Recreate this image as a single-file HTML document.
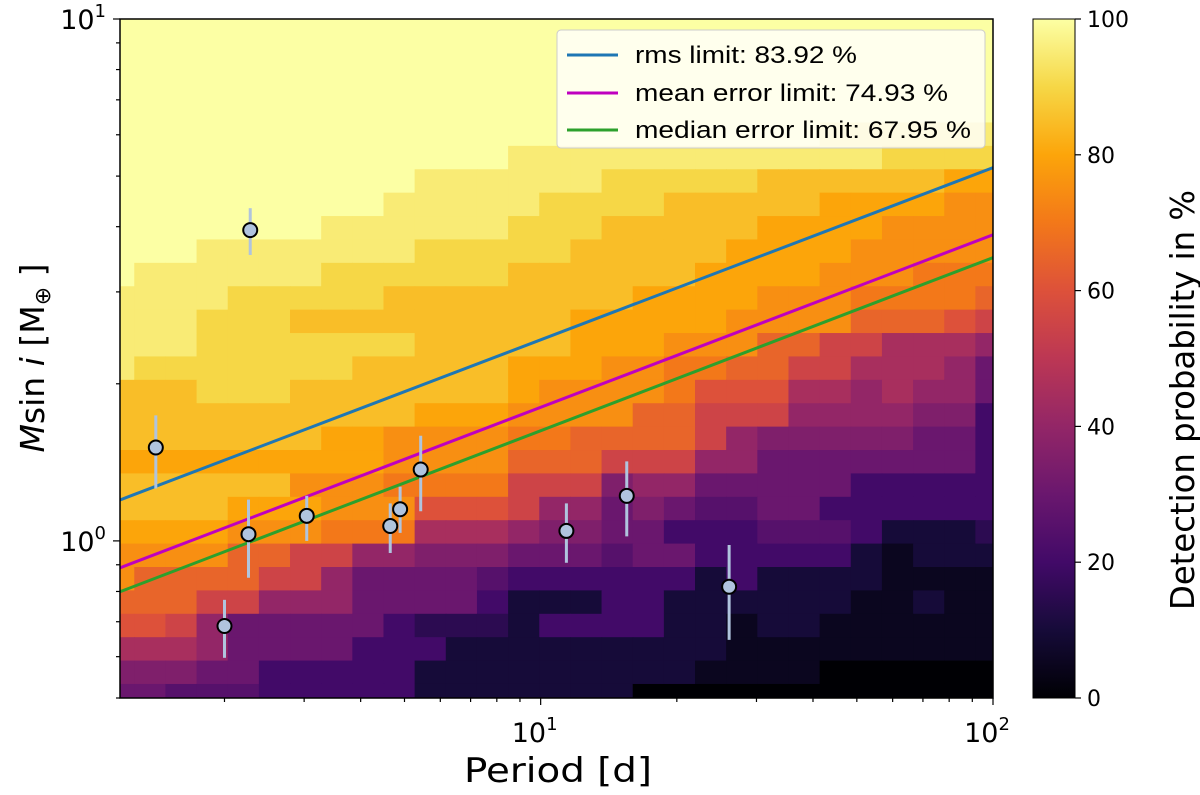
<!DOCTYPE html>
<html><head><meta charset="utf-8"><style>
html,body{margin:0;padding:0;background:#fff;}
svg{display:block;font-family:"DejaVu Sans","Liberation Sans",sans-serif;}
</style></head>
<body>
<svg id="chart" xmlns="http://www.w3.org/2000/svg" width="1200" height="795" viewBox="0 0 1200 795">
<defs><clipPath id="plotclip"><rect x="120" y="19" width="873" height="679"/></clipPath>
<linearGradient id="cbgrad" x1="0" y1="1" x2="0" y2="0">
<stop offset="0" stop-color="#000004"/><stop offset="0.1" stop-color="#160b39"/><stop offset="0.2" stop-color="#420a68"/><stop offset="0.3" stop-color="#6a176e"/><stop offset="0.4" stop-color="#932667"/><stop offset="0.5" stop-color="#bc3754"/><stop offset="0.6" stop-color="#dd513a"/><stop offset="0.7" stop-color="#f37819"/><stop offset="0.8" stop-color="#fca50a"/><stop offset="0.9" stop-color="#f6d746"/><stop offset="1" stop-color="#fcffa4"/>
</linearGradient></defs>
<g id="heat" clip-path="url(#plotclip)"></g>
<g id="lines" clip-path="url(#plotclip)"></g>
<g id="points"></g>
<rect x="120" y="19" width="873" height="679" fill="none" stroke="#000" stroke-width="1.5"/>
<g id="axes"></g>
<g font-family="'Liberation Sans Narrow','Liberation Sans',sans-serif">
<rect x="557" y="30" width="428" height="118" rx="4" fill="#fff" fill-opacity="0.8" stroke="#ccc"/>
<line x1="567" y1="55" x2="618" y2="55" stroke="#1f77b4" stroke-width="3"/>
<text x="635" y="63" font-size="24" textLength="222" lengthAdjust="spacingAndGlyphs">rms limit: 83.92 %</text>
<line x1="567" y1="93" x2="618" y2="93" stroke="#bf00bf" stroke-width="3"/>
<text x="635" y="101" font-size="24" textLength="313" lengthAdjust="spacingAndGlyphs">mean error limit: 74.93 %</text>
<line x1="567" y1="130" x2="618" y2="130" stroke="#2ca02c" stroke-width="3"/>
<text x="635" y="138" font-size="24" textLength="336" lengthAdjust="spacingAndGlyphs">median error limit: 67.95 %</text>
</g>
<rect x="1033" y="19" width="42" height="679" fill="url(#cbgrad)" stroke="#000" stroke-width="1"/>
<g id="cbticks"></g>
<text transform="translate(1194,400) rotate(-90)" text-anchor="middle" font-size="33" textLength="420" lengthAdjust="spacingAndGlyphs">Detection probability in %</text>
<text x="558" y="782" text-anchor="middle" font-size="34" textLength="188" lengthAdjust="spacingAndGlyphs">Period [d]</text>
<text transform="translate(44,358) rotate(-90)" text-anchor="middle" font-size="33"><tspan font-style="italic">M</tspan>sin <tspan font-style="italic">i</tspan> [M<tspan font-size="22" dy="6">⊕</tspan><tspan dy="-6"> ]</tspan></text>
</svg>
<script>
// heatmap rows (top to bottom), each char = probability index * 5 %
const levels = "0123456789ABCDEFGHIJK";
const heatRows = [
"KKKKKKKKKKKKKKKKKKKKKKKKKKKKK",
"KKKKKKKKKKKKKKKKKKKKKKKKKKKKK",
"KKKKKKKKKKKKKKKKKKKKKKKKKKKKK",
"KKKKKKKKKKKKKKKKKKKKKKKKKKKKK",
"KKKKKKKKKKKKKKKKKKKKKKKKKKKKK",
"KKKKKKKKKKKKKKKKKKKKKKKJJJJJJ",
"KKKKKKKKKKKKKJJJJJJJJJJJJIIII",
"KKKKKKKKKKJJJJJJIIIIIHHHHHHGG",
"KKKKKKKKKJJJJJIIIIHHHHHGGGGFF",
"KKKKKKKJJJJJJIIIHHHHHGGGGFFFF",
"KKKJJJJJJJIIIIIHHHHHGGGGFFFFF",
"KJJJJJJIIIIIIHHHHHHGGGGFFFEEE",
"JJJJIIIIIHHHHHHHHGGGGFFFEEEED",
"JJJIIIHHHHHHHHHGGGGGFFFFDDDCB",
"JJJIIIIIIIHHHHHGGGFFFDDBB9998",
"JIIIIIIIHHHHHGGGFFEEDDBB99986",
"HHHIIIHHHHHHHGFFFFECCC9989886",
"HHHHHHHHHHGGGFFFFDDBBB8888774",
"HHHHHHHGGFFFFEEDDDDB877777664",
"GGGGGGGGGFFFFDDDBBB8866666664",
"HHHHHHFFFEEEEBBB7886666644444",
"HHHHGGGFFFCCCB886765566444444",
"GGGGFFFEEE9998776644455542223",
"FFFFDDBB887776665664444421222",
"FDDDDBB8666654444442422221111",
"DDDBB888666642224422222211211",
"CCB86666643332444422122111111",
"99986666444222222222111111111",
"77766444442222222221111000000",
"66555444442222222000000000000"
];
// planet data: period [d], mass [M_earth], lower & upper error bounds
const periods = [1.41, 2.28, 2.26, 2.00, 3.04, 4.65, 4.89, 5.43, 11.4, 15.5, 26.1];
const masses  = [1.51, 3.94, 1.03, 0.687, 1.117, 1.068, 1.15, 1.37, 1.045, 1.22, 0.817];
const massLo  = [1.26, 3.53, 0.85, 0.597, 1.00, 0.948, 1.036, 1.14, 0.908, 1.02, 0.646];
const massHi  = [1.74, 4.34, 1.20, 0.771, 1.22, 1.18, 1.27, 1.59, 1.18, 1.42, 0.982];
// limit lines: mass at period 1.175 d and at 100 d
const lineNames = ["rms", "mean", "median"];
const lineStart = [1.198, 0.888, 0.799];
const lineEnd   = [5.19, 3.86, 3.49];
const cbTicks = [0, 20, 40, 60, 80, 100];

const NS = "http://www.w3.org/2000/svg";
const X0 = 120, X1 = 993, Y0 = 19, Y1 = 698;
const LX0 = Math.log10(1.175), LX1 = 2, LY0 = Math.log10(0.5), LY1 = 1;
const xs = p => X0 + (Math.log10(p) - LX0) / (LX1 - LX0) * (X1 - X0);
const ys = m => Y1 - (Math.log10(m) - LY0) / (LY1 - LY0) * (Y1 - Y0);
const inf = ["#000004","#160b39","#420a68","#6a176e","#932667","#bc3754","#dd513a","#f37819","#fca50a","#f6d746","#fcffa4"];
function hex(c){return [1,3,5].map(i=>parseInt(c.substr(i,2),16));}
function cmap(v){v=Math.max(0,Math.min(100,v))/10;const i=Math.min(9,Math.floor(v)),t=v-i;const a=hex(inf[i]),b=hex(inf[i+1]);return "rgb("+a.map((x,k)=>Math.round(x+(b[k]-x)*t)).join(",")+")";}
function mk(tag, attrs, parent){const e=document.createElementNS(NS,tag);for(const k in attrs)e.setAttribute(k,attrs[k]);parent.appendChild(e);return e;}

// heatmap grid in log space
const gx0 = 0.0327, gdx = 0.06887, gy0 = 1.0259, gdy = 0.04483;
const heat = document.getElementById("heat");
heatRows.forEach((row, r) => {
  for (let c = 0; c < row.length; c++) {
    const v = levels.indexOf(row[c]) * 5;
    const xa = xs(Math.pow(10, gx0 + c * gdx)), xb = xs(Math.pow(10, gx0 + (c + 1) * gdx));
    const ya = ys(Math.pow(10, gy0 - r * gdy)), yb = ys(Math.pow(10, gy0 - (r + 1) * gdy));
    const el = mk("rect", {x: xa, y: ya, width: xb - xa + 0.6, height: yb - ya + 0.6, fill: cmap(v)}, heat);
    
    
  }
});

// limit lines
const lineColors = ["#1f77b4", "#bf00bf", "#2ca02c"];
const lg = document.getElementById("lines");
lineNames.forEach((n, i) => {
  const el = mk("line", {x1: xs(1.175), y1: ys(lineStart[i]), x2: xs(100), y2: ys(lineEnd[i]), stroke: lineColors[i], "stroke-width": 3}, lg);
  
  
});

// planets
const pg = document.getElementById("points");
periods.forEach((p, i) => {
  const eb = mk("line", {x1: xs(p), x2: xs(p), y1: ys(massLo[i]), y2: ys(massHi[i]), stroke: "#b0c4de", "stroke-width": 3}, pg);
  
  
});
periods.forEach((p, i) => {
  const pt = mk("circle", {cx: xs(p), cy: ys(masses[i]), r: 7, fill: "#b0c4de", stroke: "#000", "stroke-width": 2}, pg);
  
  
});

// axes ticks
const ax = document.getElementById("axes");
function tick(x1,y1,x2,y2){const t=mk("line",{x1,y1,x2,y2,stroke:"#000","stroke-width":1.2},ax);}
for (let d = 0; d <= 2; d++) for (let k = 1; k <= 9; k++) {
  const v = k * Math.pow(10, d); if (v < 1.175 || v > 100) continue;
  const x = xs(v); tick(x, Y1, x, Y1 + (k === 1 ? 7 : 4));
}
for (let d = -1; d <= 1; d++) for (let k = 1; k <= 9; k++) {
  const v = k * Math.pow(10, d); if (v < 0.5 || v > 10) continue;
  const y = ys(v); tick(X0, y, X0 - (k === 1 ? 7 : 4), y);
}
function pow10(x, y, e, anchor, name){
  const t = mk("text", {x, y, "font-size": 27, "text-anchor": anchor}, ax);
  
  
  t.textContent = "10";
  const s = mk("tspan", {"font-size": 18, dy: -12}, t); s.textContent = e;
}
pow10(xs(10) - 6, 742, "1", "middle", "x-tick-label-10");
pow10(xs(100) - 6, 742, "2", "middle", "x-tick-label-100");
pow10(106, ys(1) + 10, "0", "end", "y-tick-label-1");
pow10(106, ys(10) + 10, "1", "end", "y-tick-label-10");

// colorbar ticks
const cb = document.getElementById("cbticks");
cbTicks.forEach(v => {
  const y = 698 - v / 100 * 679;
  const l = mk("line", {x1: 1075, x2: 1081, y1: y, y2: y, stroke: "#000", "stroke-width": 1.2}, cb);
  
  
  const t = mk("text", {x: 1087, y: y + 8, "font-size": 22}, cb);
  
  
  t.textContent = v;
});
</script>
</body></html>
